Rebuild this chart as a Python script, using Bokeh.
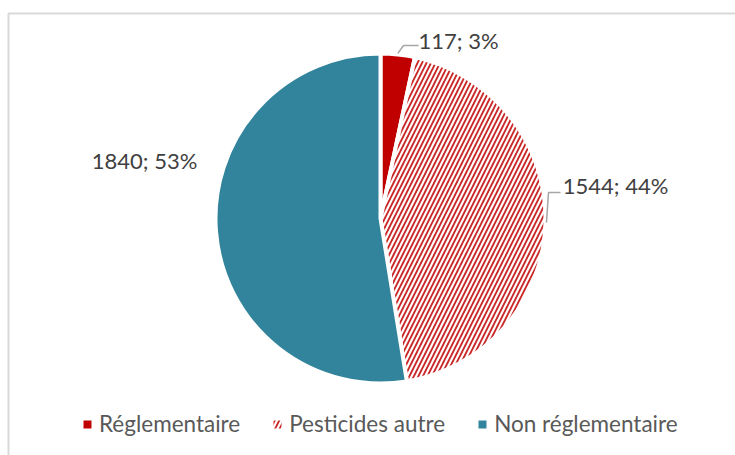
import numpy as np
from bokeh.plotting import figure
from bokeh.models import Range1d, Legend, LegendItem
from bokeh.core.properties import value
from bokeh.embed import file_html
from bokeh.resources import INLINE

# ---- data ----
categories = ["Réglementaire", "Pesticides autre", "Non réglementaire"]
counts = [117, 1544, 1840]

# ---- styles / layout ----
fill_colors = ["#C00000", "#FFFFFF", "#31849B"]
hatch_patterns = [None, "/", None]
HATCH_COLOR = "#C00000"
FONT = "Lato"

total = sum(counts)
frac = np.array(counts, dtype=float) / total
cum = np.concatenate([[0.0], np.cumsum(frac)])
# clockwise from 12 o'clock -> bokeh counter-clockwise angles
start_angles = np.pi / 2 - 2 * np.pi * cum[1:]
end_angles = np.pi / 2 - 2 * np.pi * cum[:-1]
mid_angles = (start_angles + end_angles) / 2
pcts = [int(round(f * 100)) for f in frac]
labels = [f"{c}; {pc}%" for c, pc in zip(counts, pcts)]

W, H = 735, 455
p = figure(width=W, height=H, output_backend="svg", toolbar_location=None,
           x_range=Range1d(0, W), y_range=Range1d(0, H),
           x_axis_location=None, y_axis_location=None,
           min_border_left=0, min_border_right=0, min_border_top=0, min_border_bottom=0)
p.grid.visible = False
p.outline_line_color = None
p.background_fill_color = "white"
p.border_fill_color = "white"

# chart-area border (left and top edges visible)
BX, BY = 8, H - 13
p.line(x=[BX, BX, W], y=[0, BY, BY], line_color="#D9D9D9", line_width=2)

cx, cy = 380, H - 218
R = 165

fill_renderers = []
for i in range(len(counts)):
    kw = dict(x=cx, y=cy, radius=R, start_angle=start_angles[i], end_angle=end_angles[i],
              fill_color=fill_colors[i], line_color=None)
    if hatch_patterns[i]:
        kw.update(hatch_pattern=hatch_patterns[i], hatch_color=HATCH_COLOR,
                  hatch_scale=9, hatch_weight=1.8, hatch_alpha=0.85)
    r = p.wedge(**kw)
    fill_renderers.append(r)
    p.wedge(x=cx, y=cy, radius=R, start_angle=start_angles[i], end_angle=end_angles[i],
            fill_color=None, line_color="white", line_width=4)

# leader lines (slices 0 and 1)
elbows = [(23, 173), (168, 26)]
ends = [(38, 173), (180, 26)]
xs, ys = [], []
for i in range(2):
    sx = cx + (R + 1) * np.cos(mid_angles[i])
    sy = cy + (R + 1) * np.sin(mid_angles[i])
    xs.append([sx, cx + elbows[i][0], cx + ends[i][0]])
    ys.append([sy, cy + elbows[i][1], cy + ends[i][1]])
p.multi_line(xs=xs, ys=ys, line_color="#A6A6A6", line_width=1.5)

label_offsets = [(78, 178), (235, 33), (-236, 58)]
lx = [cx + o[0] for o in label_offsets]
ly = [cy + o[1] for o in label_offsets]
p.text(x=lx, y=ly, text=labels, text_font=value(FONT), text_font_size="22px",
       text_color="#404040", text_align="center", text_baseline="middle")

legend = Legend(items=[LegendItem(label=categories[i], renderers=[fill_renderers[i]])
                       for i in range(len(categories))],
                orientation="horizontal", location=(82, 18),
                label_text_font=FONT, label_text_font_size="22.5px", label_text_color="#595959",
                glyph_width=10, glyph_height=10, label_standoff=7, spacing=32,
                padding=0, margin=0, border_line_color=None, background_fill_alpha=0)
p.add_layout(legend)

open("out.html", "w").write(file_html(p, INLINE))
